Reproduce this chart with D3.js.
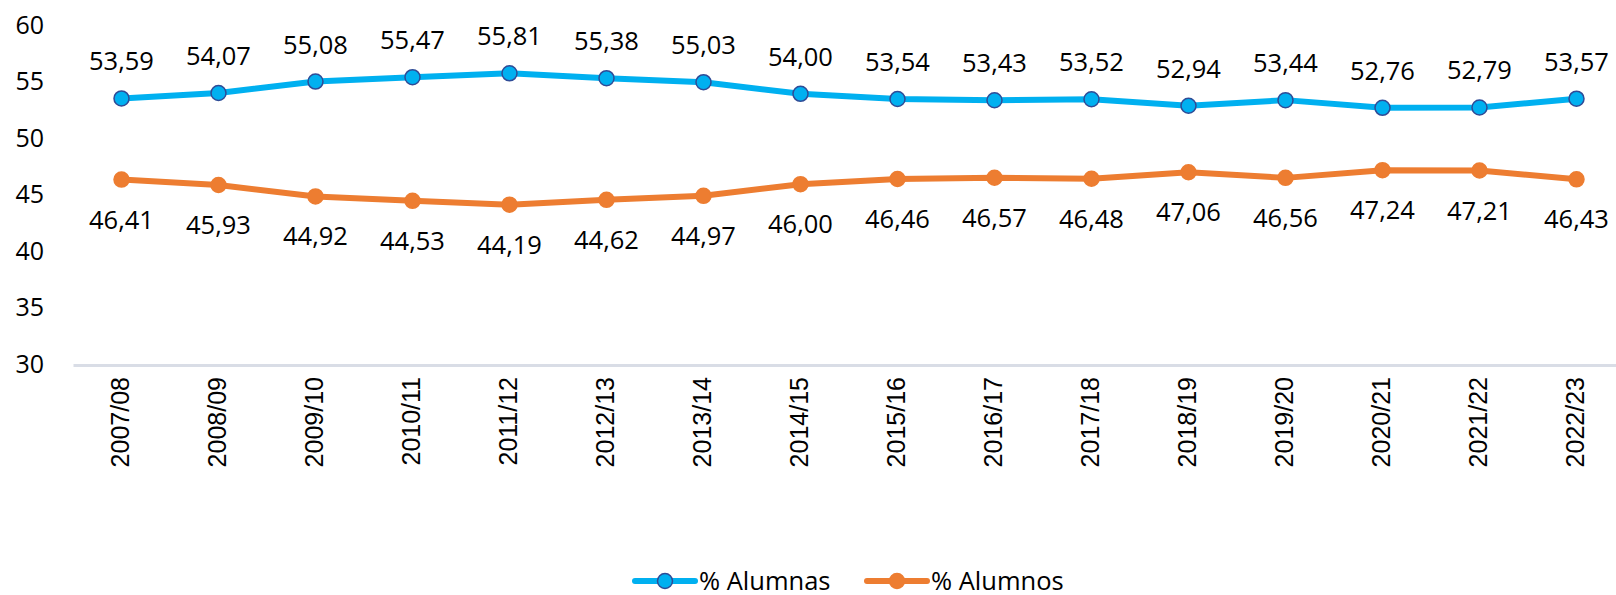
<!DOCTYPE html>
<html>
<head>
<meta charset="utf-8">
<script src="https://cdn.jsdelivr.net/npm/d3@7"></script>
<style>
  body { margin: 0; background: #fff; }
  svg { display: block; }
</style>
</head>
<body>
<svg id="chart"></svg>
<script>
const years = ['2007/08', '2008/09', '2009/10', '2010/11', '2011/12', '2012/13', '2013/14', '2014/15',
    '2015/16', '2016/17', '2017/18', '2018/19', '2019/20', '2020/21', '2021/22', '2022/23'];
const alumnas = [53.59, 54.07, 55.08, 55.47, 55.81, 55.38, 55.03, 54.00, 53.54, 53.43, 53.52, 52.94, 53.44, 52.76, 52.79, 53.57];
const alumnos = [46.41, 45.93, 44.92, 44.53, 44.19, 44.62, 44.97, 46.00, 46.46, 46.57, 46.48, 47.06, 46.56, 47.24, 47.21, 46.43];
const yTicks = [30, 35, 40, 45, 50, 55, 60];
const seriesNames = ['% Alumnas', '% Alumnos'];

const width = 1616;
const height = 595;
const labelFont = '"Open Sans", sans-serif';

const svg = d3.select('#chart')
    .attr('width', width)
    .attr('height', height);

const x = d3.scaleBand()
    .domain(years)
    .range([73, 1625]);

const y = d3.scaleLinear()
    .domain([30, 60])
    .range([365, 26]);

const fmt = v => v.toFixed(2).replace('.', ',');

// y tick labels (no axis line, Excel style)
svg.append('g')
    .selectAll('text')
    .data(yTicks)
    .enter().append('text')
    .attr('x', 44)
    .attr('y', d => y(d) - 1)
    .attr('dy', '0.35em')
    .attr('text-anchor', 'end')
    .style('font-family', labelFont)
    .style('font-size', '25px')
    .style('fill', '#000')
    .text(d => d);

// category axis
const xAxis = svg.append('g')
    .attr('transform', `translate(0,${y(30)})`)
    .call(d3.axisBottom(x).tickSize(0).tickPadding(0));

xAxis.select('.domain')
    .attr('stroke', '#D9DDE6')
    .attr('stroke-width', 3);

xAxis.selectAll('text')
    .attr('transform', 'rotate(-90)')
    .attr('x', -12)
    .attr('y', -1)
    .attr('dy', '0.35em')
    .attr('text-anchor', 'end')
    .style('font-family', '"Liberation Sans", Arial, sans-serif')
    .style('font-size', '25px')
    .style('fill', '#000');

const cx = d => x(d) + x.bandwidth() / 2;

const series = [
    { name: seriesNames[0], values: alumnas, color: '#00B0F0', stroke: '#2F4B96', labelDy: -28 },
    { name: seriesNames[1], values: alumnos, color: '#ED7D31', stroke: '#ED7D31', labelDy: 49 }
];

const line = d3.line()
    .x((d, i) => cx(years[i]))
    .y(d => y(d));

series.forEach(s => {
    const g = svg.append('g');

    g.append('path')
        .datum(s.values)
        .attr('d', line)
        .attr('fill', 'none')
        .attr('stroke', s.color)
        .attr('stroke-width', 6)
        .attr('stroke-linejoin', 'round');

    g.selectAll('circle')
        .data(s.values)
        .enter().append('circle')
        .attr('cx', (d, i) => cx(years[i]))
        .attr('cy', d => y(d))
        .attr('r', 7.5)
        .attr('fill', s.color)
        .attr('stroke', s.stroke)
        .attr('stroke-width', 1.5);

    g.selectAll('text')
        .data(s.values)
        .enter().append('text')
        .attr('x', (d, i) => cx(years[i]))
        .attr('y', d => y(d) + s.labelDy)
        .attr('text-anchor', 'middle')
        .style('font-family', labelFont)
        .style('font-size', '25.5px')
        .style('fill', '#000')
        .text(d => fmt(d));
});

// legend
const legendX = [635, 867];
const legend = svg.append('g')
    .attr('transform', 'translate(0,581)');

series.forEach((s, i) => {
    const lg = legend.append('g')
        .attr('transform', `translate(${legendX[i]},0)`);
    lg.append('line')
        .attr('x1', 0).attr('x2', 60)
        .attr('y1', 0).attr('y2', 0)
        .attr('stroke', s.color)
        .attr('stroke-width', 6)
        .attr('stroke-linecap', 'round');
    lg.append('circle')
        .attr('cx', 30).attr('cy', 0)
        .attr('r', 7.5)
        .attr('fill', s.color)
        .attr('stroke', s.stroke)
        .attr('stroke-width', 1.5);
    lg.append('text')
        .attr('x', 64)
        .attr('y', 0)
        .attr('dy', '0.35em')
        .style('font-family', labelFont)
        .style('font-size', '25.5px')
        .style('fill', '#000')
        .text(s.name);
});
</script>
</body>
</html>
